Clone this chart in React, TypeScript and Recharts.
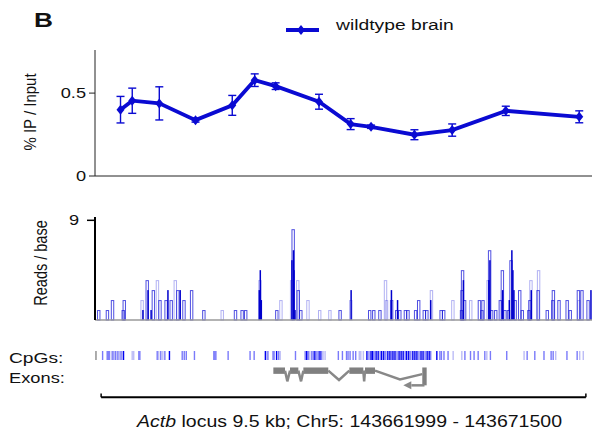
import {
  LineChart,
  Line,
  BarChart,
  Bar,
  ComposedChart,
  Scatter,
  XAxis,
  YAxis,
  ErrorBar,
  ReferenceArea,
  ReferenceLine,
} from 'recharts'

// x positions are kb from the start of the locus (Chr5:143661999)
const X_DOMAIN: [number, number] = [-0.12, 9.62]
const FONT = '"Liberation Sans", Arial, Helvetica, sans-serif'
const BLUE = '#0a0ad2'

// % IP / Input, wildtype brain
const CHIP_POS = [0.38, 0.61, 1.14, 1.85, 2.57, 3.01, 3.42, 4.27, 4.89, 5.29, 6.14, 6.88, 7.93, 9.37]
const CHIP_VAL = [0.4, 0.454, 0.438, 0.337, 0.426, 0.578, 0.542, 0.448, 0.313, 0.297, 0.249, 0.277, 0.393, 0.357]
const CHIP_ERR = [0.08, 0.076, 0.1, 0.012, 0.06, 0.038, 0.02, 0.045, 0.033, 0.01, 0.03, 0.037, 0.028, 0.036]

// reads / base, [kb, value]
const READS_LIGHT: [number, number][] = [
  [0.8, 1.8], [1.1, 3.6], [1.45, 3.6], [2.37, 0.9], [3.11, 3.6], [3.52, 1.8], [3.73, 3.6],
  [3.85, 3.6], [4.05, 1.8], [4.28, 0.9], [4.48, 0.9], [4.89, 1.8], [5.57, 3.6], [5.59, 1.8],
  [6.47, 2.7], [6.89, 1.8], [7.24, 1.8], [7.58, 3.6], [8.42, 3.6], [8.57, 4.5], [9.36, 1.8],
]
const READS_MID: [number, number][] = [
  [-0.05, 0.9], [0.12, 0.9], [0.22, 1.8], [0.43, 0.9], [0.45, 1.8], [0.9, 3.6], [1.02, 2.7],
  [1.15, 1.8], [1.27, 1.8], [1.37, 1.8], [1.5, 2.7], [1.62, 1.8], [1.77, 2.7], [2.01, 0.9],
  [2.63, 0.9], [2.76, 0.9], [2.83, 0.9], [3.44, 0.9], [3.76, 8.2], [3.86, 2.7], [3.91, 0.9],
  [4.68, 0.9], [5.26, 0.9], [5.34, 0.9], [5.46, 0.9], [5.69, 1.8], [5.79, 0.9], [5.85, 0.9],
  [5.96, 0.9], [6.01, 0.9], [6.16, 0.9], [6.22, 1.8], [6.33, 0.9], [6.38, 0.9], [6.66, 0.9],
  [6.71, 0.9], [7.06, 0.9], [7.07, 2.7], [7.08, 4.5], [7.12, 1.8], [7.41, 1.8], [7.46, 0.9],
  [7.48, 1.8], [7.61, 6.3], [7.65, 0.9], [7.73, 0.9], [7.82, 1.8], [7.86, 4.5], [7.91, 0.9],
  [7.98, 0.9], [8.03, 5.4], [8.11, 1.8], [8.2, 2.7], [8.25, 0.9], [8.38, 0.9], [8.4, 1.8],
  [8.56, 2.7], [8.74, 0.9], [8.85, 1.8], [8.86, 2.7], [8.97, 1.8], [9.13, 1.8], [9.19, 0.9],
  [9.35, 2.7], [9.42, 2.7], [9.54, 1.8],
]
const READS_DARK: [number, number][] = [
  [0.82, 0.9], [0.92, 2.7], [0.98, 0.9], [1.31, 2.7], [1.55, 2.7], [3.1, 2.7], [3.12, 4.5],
  [3.14, 1.8], [3.74, 5.4], [3.77, 6.3], [3.78, 4.5], [3.8, 0.9], [4.9, 2.7], [5.69, 2.7],
  [5.81, 1.8], [6.46, 1.8], [7.1, 3.6], [7.6, 3.6], [7.62, 5.4], [7.87, 2.7], [8.0, 1.8],
  [8.05, 6.3], [8.07, 4.5], [8.09, 2.7], [8.43, 2.7], [9.6, 2.7],
]

// CpG sites (kb)
const CPG_GRAY = [-0.1]
const CPG_LIGHT = [
  0.2, 0.25, 0.31, 0.36, 0.41, 0.61, 0.64, 1.13, 1.21, 3.25, 3.51, 4.09, 4.35, 4.39, 5.06, 5.09,
  5.14, 6.9, 7.07, 7.56, 8.29, 8.91, 9.38, 9.45,
]
const CPG_MID = [
  0.03, 0.12, 0.14, 0.16, 0.23, 0.28, 0.33, 0.39, 0.74, 0.76, 1.1, 1.17, 1.25, 1.59, 1.63, 1.67,
  1.83, 2.21, 2.23, 2.25, 2.49, 2.92, 3.0, 3.27, 3.37, 3.39, 3.48, 3.81, 4.0, 4.06, 4.13, 4.16,
  4.23, 4.26, 4.32, 4.65, 4.73, 4.81, 4.84, 4.88, 4.94, 4.99, 5.25, 5.35, 5.47, 5.58, 5.69, 5.8,
  5.96, 6.07, 6.23, 6.35, 6.46, 6.64, 6.67, 6.72, 6.8, 7.13, 7.24, 7.31, 7.39, 7.52, 7.63, 7.95,
  8.35, 8.5, 8.68, 8.82, 8.86, 9.13, 9.33,
]
const CPG_DARK = [
  0.44, 1.34, 3.22, 3.44, 4.03, 4.19, 4.29, 5.21, 5.29, 5.32, 5.39, 5.43, 5.5, 5.54, 5.62, 5.66,
  5.72, 5.76, 5.84, 5.88, 5.92, 5.99, 6.03, 6.11, 6.15, 6.19, 6.27, 6.31, 6.39, 6.43, 6.58,
]

// Actb gene model (kb), y in track units
const EXONS: [number, number][] = [
  [3.375, 3.604], [3.702, 3.865], [3.963, 4.452], [4.864, 5.138], [5.171, 5.367],
]
const FIRST_EXON: [number, number] = [6.294, 6.38]
const INTRONS: { x: number; y: number }[][] = [
  [{ x: 3.604, y: 0 }, { x: 3.649, y: -4 }, { x: 3.702, y: 0 }],
  [{ x: 3.865, y: 0 }, { x: 3.918, y: -4 }, { x: 3.963, y: 0 }],
  [{ x: 4.452, y: 0 }, { x: 4.662, y: -3.5 }, { x: 4.864, y: 0 }],
  [{ x: 5.138, y: 0 }, { x: 5.155, y: -4 }, { x: 5.171, y: 0 }],
  [{ x: 5.367, y: 0 }, { x: 5.857, y: -3.3 }, { x: 6.294, y: -1.3 }],
]
const TSS_ARROW = [{ x: 6.337, y: -5.5 }, { x: 6.08, y: -5.5 }]
const TSS_HEAD = [{ x: 6.04, y: -5.5 }]
const LOCUS_KB = 9.5

const chipData = CHIP_POS.map((x, i) => ({ x, v: CHIP_VAL[i], err: CHIP_ERR[i] }))
const readData = [
  ...READS_LIGHT.map(([x, v]) => ({ x, v, tone: 'l' })),
  ...READS_MID.map(([x, v]) => ({ x, v, tone: 'm' })),
  ...READS_DARK.map(([x, v]) => ({ x, v, tone: 'd' })),
]
const cpgData = [
  ...CPG_GRAY.map((x) => ({ x, h: 1, tone: 'g' })),
  ...CPG_LIGHT.map((x) => ({ x, h: 1, tone: 'l' })),
  ...CPG_MID.map((x) => ({ x, h: 1, tone: 'm' })),
  ...CPG_DARK.map((x) => ({ x, h: 1, tone: 'd' })),
]

const CPG_COLORS: Record<string, string> = { g: '#8a8a8a', l: '#bcbcf6', m: '#7a7afa', d: '#0000f0' }

function StretchTick(props: any) {
  const { x, y, payload } = props
  return (
    <text
      transform={`translate(${x},${y}) scale(1.3,1)`}
      textAnchor="end"
      dy="0.36em"
      fontSize={14}
      fontFamily={FONT}
      fill="#111"
    >
      {payload.value}
    </text>
  )
}

function Diamond(props: any) {
  const { cx, cy } = props
  if (cx == null || cy == null) return null
  return <polygon points={`${cx},${cy - 5} ${cx + 4},${cy} ${cx},${cy + 5} ${cx - 4},${cy}`} fill={BLUE} />
}

// bars sit very close together, so recharts shrinks them; draw fixed widths around the centre
function ReadShape(props: any) {
  const { x, y, width, height, payload } = props
  if (!height) return null
  const cx = x + width / 2
  if (payload.tone === 'd') {
    return <rect x={cx - 0.75} y={y} width={1.5} height={height} fill="#0000cc" />
  }
  const stroke = payload.tone === 'l' ? 'rgba(60,60,225,0.4)' : 'rgba(20,20,215,0.75)'
  return <rect x={cx - 1} y={y + 0.5} width={2.4} height={height - 0.5} fill="none" stroke={stroke} strokeWidth={1} />
}

function CpgShape(props: any) {
  const { x, y, width, height, payload } = props
  const cx = x + width / 2
  return <rect x={cx - 0.7} y={y} width={1.4} height={height} fill={CPG_COLORS[payload.tone]} />
}

function ArrowHead(props: any) {
  const { cx, cy } = props
  return <polygon points={`${cx - 6},${cy} ${cx + 2},${cy - 4} ${cx + 2},${cy + 4}`} fill="#888" />
}

export default function App() {
  return (
    <div
      style={{
        position: 'absolute',
        left: 0,
        top: 0,
        width: 592,
        height: 439,
        background: '#fff',
        fontFamily: FONT,
        overflow: 'hidden',
      }}
    >
      <div style={{ position: 'absolute', left: 0, top: 0 }}>
        <LineChart width={592} height={200} data={chipData} margin={{ top: 50, right: 0, bottom: 0, left: 0 }}>
          <XAxis
            type="number"
            dataKey="x"
            domain={X_DOMAIN}
            allowDataOverflow
            height={24}
            tick={false}
            tickLine={false}
            axisLine={{ stroke: '#222', strokeWidth: 1 }}
          />
          <YAxis
            type="number"
            domain={[0, 0.76]}
            ticks={[0, 0.5]}
            width={95}
            tickSize={6}
            tickMargin={3}
            axisLine={{ stroke: '#222', strokeWidth: 1 }}
            tickLine={{ stroke: '#222', strokeWidth: 1 }}
            tick={<StretchTick />}
          />
          <Line
            type="linear"
            dataKey="v"
            stroke={BLUE}
            strokeWidth={3.8}
            dot={<Diamond />}
            activeDot={false}
            isAnimationActive={false}
          >
            <ErrorBar dataKey="err" width={4} stroke={BLUE} strokeWidth={1.4} isAnimationActive={false} />
          </Line>
        </LineChart>
      </div>

      <div style={{ position: 'absolute', left: 0, top: 200 }}>
        <BarChart
          width={592}
          height={125}
          data={readData}
          barSize={3}
          margin={{ top: 17, right: 0, bottom: 0, left: 0 }}
        >
          <XAxis
            type="number"
            dataKey="x"
            domain={X_DOMAIN}
            allowDataOverflow
            height={5}
            tick={false}
            tickLine={false}
            axisLine={{ stroke: '#9a9a9a', strokeWidth: 1.5 }}
          />
          <YAxis
            type="number"
            domain={[0, 9.3]}
            ticks={[9]}
            width={95}
            tickSize={8}
            tickMargin={8}
            axisLine={{ stroke: '#000', strokeWidth: 2 }}
            tickLine={{ stroke: '#000', strokeWidth: 1.5 }}
            tick={<StretchTick />}
          />
          <Bar dataKey="v" shape={<ReadShape />} isAnimationActive={false} />
        </BarChart>
      </div>

      <div style={{ position: 'absolute', left: 0, top: 351 }}>
        <BarChart
          width={592}
          height={9}
          data={cpgData}
          barSize={1.4}
          margin={{ top: 0, right: 0, bottom: 0, left: 95 }}
        >
          <XAxis type="number" dataKey="x" domain={X_DOMAIN} allowDataOverflow hide />
          <YAxis type="number" domain={[0, 1]} hide />
          <Bar dataKey="h" shape={<CpgShape />} isAnimationActive={false} />
        </BarChart>
      </div>

      <div style={{ position: 'absolute', left: 0, top: 360 }}>
        <ComposedChart width={592} height={40} margin={{ top: 0, right: 0, bottom: 0, left: 95 }}>
          <XAxis type="number" dataKey="x" domain={X_DOMAIN} allowDataOverflow hide />
          <YAxis type="number" dataKey="y" domain={[-11, 4]} allowDataOverflow hide />
          {EXONS.map(([a, b], i) => (
            <ReferenceArea key={i} x1={a} x2={b} y1={-1.2} y2={1.2} fill="#808080" fillOpacity={1} stroke="none" />
          ))}
          <ReferenceArea
            x1={FIRST_EXON[0]}
            x2={FIRST_EXON[1]}
            y1={-5.5}
            y2={1.2}
            fill="#808080"
            fillOpacity={1}
            stroke="none"
          />
          {INTRONS.map((pts, i) => (
            <Line
              key={i}
              data={pts}
              dataKey="y"
              type="linear"
              stroke="#888"
              strokeWidth={2.5}
              dot={false}
              activeDot={false}
              isAnimationActive={false}
            />
          ))}
          <Line
            data={TSS_ARROW}
            dataKey="y"
            type="linear"
            stroke="#888"
            strokeWidth={2.5}
            dot={false}
            activeDot={false}
            isAnimationActive={false}
          />
          <Scatter data={TSS_HEAD} dataKey="y" shape={<ArrowHead />} isAnimationActive={false} />
          <ReferenceLine
            segment={[{ x: 0, y: -10 }, { x: LOCUS_KB, y: -10 }]}
            stroke="#000"
            strokeWidth={2}
          />
          <ReferenceLine segment={[{ x: 0, y: -10 }, { x: 0, y: -8.6 }]} stroke="#000" strokeWidth={1.5} />
          <ReferenceLine
            segment={[{ x: LOCUS_KB, y: -10 }, { x: LOCUS_KB, y: -8.6 }]}
            stroke="#000"
            strokeWidth={1.5}
          />
        </ComposedChart>
      </div>

      <svg
        width={592}
        height={439}
        style={{ position: 'absolute', left: 0, top: 0, pointerEvents: 'none' }}
        fontFamily={FONT}
      >
        <text transform="translate(34,27) scale(1.25,1)" fontSize={21} fontWeight="bold" fill="#111">
          B
        </text>

        <line x1={286} y1={30} x2={319} y2={30} stroke={BLUE} strokeWidth={4} />
        <polygon points="301,25 305,30 301,35 297,30" fill={BLUE} />
        <text transform="translate(336,29.5) scale(1.33,1)" fontSize={14.5} fill="#111">
          wildtype brain
        </text>

        <text transform="translate(36,112) scale(1.1,1) rotate(-90)" textAnchor="middle" fontSize={15} fill="#111">
          % IP / Input
        </text>
        <text transform="translate(46.5,263) scale(1.25,1) rotate(-90)" textAnchor="middle" fontSize={14.5} fill="#111">
          Reads / base
        </text>

        <text transform="translate(9,363.3) scale(1.28,1)" fontSize={15} fill="#111">
          CpGs:
        </text>
        <text transform="translate(9,382.7) scale(1.22,1)" fontSize={15} fill="#111">
          Exons:
        </text>

        <text transform="translate(137,426.7) scale(1.22,1)" fontSize={16} fill="#111">
          <tspan fontStyle="italic">Actb</tspan> locus 9.5 kb; Chr5: 143661999 - 143671500
        </text>
      </svg>
    </div>
  )
}
